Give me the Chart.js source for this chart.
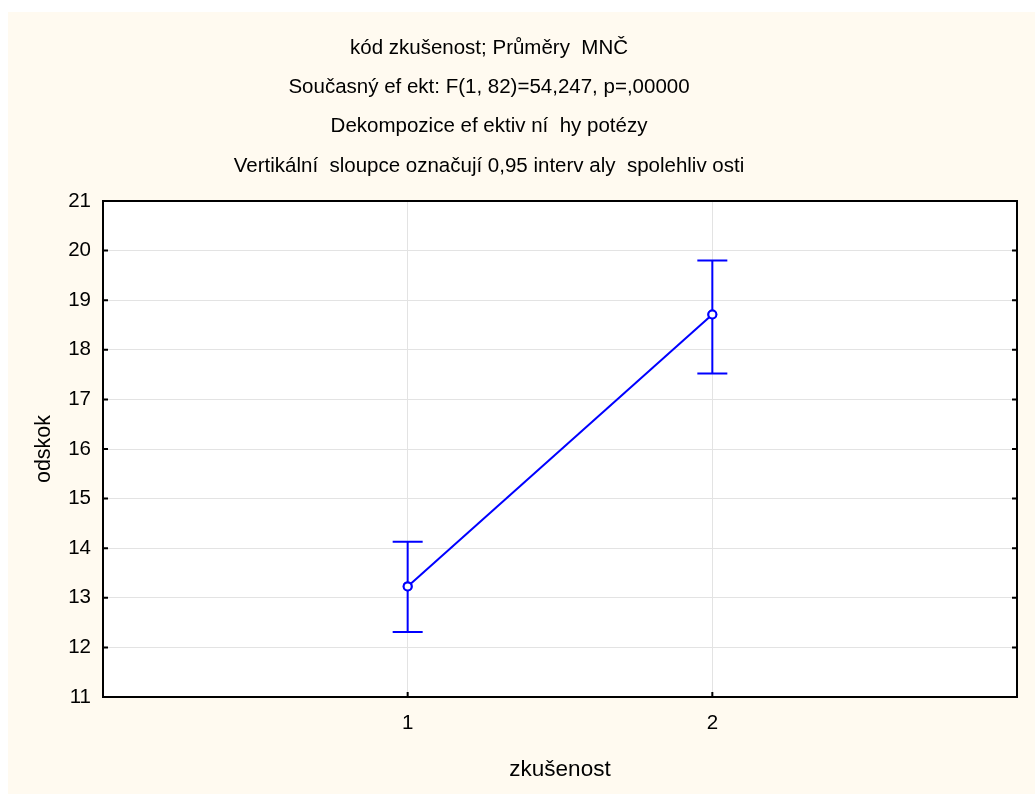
<!DOCTYPE html>
<html>
<head>
<meta charset="utf-8">
<script src="https://cdn.jsdelivr.net/npm/chart.js@4"></script>
<style>
  html, body { margin: 0; padding: 0; background: #ffffff; }
  #frame {
    position: absolute;
    left: 8px;
    top: 12px;
    width: 1027px;
    height: 782px;
    background: #fffaf0;
  }
  canvas { display: block; }
</style>
</head>
<body>
<div id="frame">
  <canvas id="chart" width="1027" height="782"></canvas>
</div>
<script>
// group labels and LS means with 0.95 confidence limits
var categories = ["1", "2"]
var means = [13.23, 18.71]
var lower = [12.31, 17.52]
var upper = [14.13, 19.80]
var yTicks = [11, 12, 13, 14, 15, 16, 17, 18, 19, 20, 21]

var titleLines = [
  "kód zkušenost; Průměry  MNČ",
  "Současný ef ekt: F(1, 82)=54,247, p=,00000",
  "Dekompozice ef ektiv ní  hy potézy",
  "Vertikální  sloupce označují 0,95 interv aly  spolehliv osti",
]

var FONT = "'Liberation Sans', Arial, sans-serif"
var BLUE = "#0000ff"

var points = categories.map(function (c, i) {
  return { x: i + 1, y: means[i] }
})

// white plot area
var plotBg = {
  id: "plotBg",
  beforeDraw: function (chart) {
    var ctx = chart.ctx
    var a = chart.chartArea
    ctx.save()
    ctx.fillStyle = "#ffffff"
    ctx.fillRect(a.left, a.top, a.right - a.left, a.bottom - a.top)
    ctx.restore()
  },
}

// header lines, centred on the original graph window rather than the plot
var header = {
  id: "header",
  afterDraw: function (chart) {
    var ctx = chart.ctx
    ctx.save()
    ctx.fillStyle = "#000"
    ctx.font = "20.5px " + FONT
    ctx.textAlign = "center"
    ctx.textBaseline = "middle"
    titleLines.forEach(function (t, i) {
      ctx.fillText(t, 481, 36 + i * 39.3)
    })
    ctx.restore()
  },
}

// error bars with caps, drawn from the y scale
var errorBars = {
  id: "errorBars",
  afterDatasetsDraw: function (chart) {
    var ctx = chart.ctx
    var xs = chart.scales.x
    var ys = chart.scales.y
    ctx.save()
    ctx.strokeStyle = BLUE
    ctx.lineWidth = 2
    categories.forEach(function (c, i) {
      var x = xs.getPixelForValue(i + 1)
      var top = ys.getPixelForValue(upper[i])
      var bot = ys.getPixelForValue(lower[i])
      ctx.beginPath()
      ctx.moveTo(x, top)
      ctx.lineTo(x, bot)
      ctx.moveTo(x - 15, top)
      ctx.lineTo(x + 15, top)
      ctx.moveTo(x - 15, bot)
      ctx.lineTo(x + 15, bot)
      ctx.stroke()
    })
    ctx.restore()
    // redraw the markers on top of the bars
    var meta = chart.getDatasetMeta(0)
    meta.data.forEach(function (pt) { pt.draw(ctx, chart.chartArea) })
  },
}

// black frame round the plot with short inward ticks
var frame = {
  id: "frame",
  afterDraw: function (chart) {
    var ctx = chart.ctx
    var a = chart.chartArea
    var xs = chart.scales.x
    var ys = chart.scales.y
    ctx.save()
    ctx.strokeStyle = "#000"
    ctx.lineWidth = 2
    ctx.strokeRect(a.left, a.top, a.right - a.left, a.bottom - a.top)
    ctx.beginPath()
    yTicks.forEach(function (v) {
      var y = ys.getPixelForValue(v)
      ctx.moveTo(a.left, y)
      ctx.lineTo(a.left + 5, y)
      ctx.moveTo(a.right, y)
      ctx.lineTo(a.right - 5, y)
    })
    categories.forEach(function (c, i) {
      var x = xs.getPixelForValue(i + 1)
      ctx.moveTo(x, a.bottom)
      ctx.lineTo(x, a.bottom - 5)
    })
    ctx.stroke()
    ctx.restore()
  },
}

new Chart(document.getElementById("chart"), {
  type: "line",
  data: {
    datasets: [
      {
        data: points,
        borderColor: BLUE,
        borderWidth: 2,
        backgroundColor: "#ffffff",
        pointRadius: 4,
        pointBorderWidth: 2,
        pointBorderColor: BLUE,
        pointBackgroundColor: "#ffffff",
        tension: 0,
      },
    ],
  },
  options: {
    responsive: false,
    devicePixelRatio: 1,
    animation: false,
    events: [],
    layout: { padding: { right: 18, left: 0, top: 189, bottom: 0 } },
    plugins: {
      legend: { display: false },
      tooltip: { enabled: false },
      title: { display: false },
    },
    scales: {
      x: {
        type: "linear",
        min: 0,
        max: 3,
        afterBuildTicks: function (s) {
          s.ticks = categories.map(function (c, i) { return { value: i + 1 } })
        },
        afterFit: function (s) { s.height = 97 },
        grid: { color: "#e3e3e3", lineWidth: 1, drawTicks: false },
        border: { display: false },
        ticks: {
          padding: 14,
          color: "#000",
          font: { family: FONT, size: 20.5 },
          callback: function (v) { return categories[v - 1] },
        },
        title: {
          display: true,
          text: "zkušenost",
          color: "#000",
          font: { family: FONT, size: 22.5 },
          padding: { top: 16, bottom: 11 },
        },
      },
      y: {
        min: 11,
        max: 21,
        afterBuildTicks: function (s) {
          s.ticks = yTicks.map(function (v) { return { value: v } })
        },
        afterFit: function (s) { s.width = 95 },
        grid: { color: "#e3e3e3", lineWidth: 1, drawTicks: false },
        border: { display: false },
        ticks: {
          padding: 12,
          color: "#000",
          font: { family: FONT, size: 20.5 },
        },
        title: {
          display: true,
          text: "odskok",
          color: "#000",
          font: { family: FONT, size: 21.5 },
          padding: { top: 23, bottom: 8 },
        },
      },
    },
  },
  plugins: [plotBg, errorBars, frame, header],
})
</script>
</body>
</html>
